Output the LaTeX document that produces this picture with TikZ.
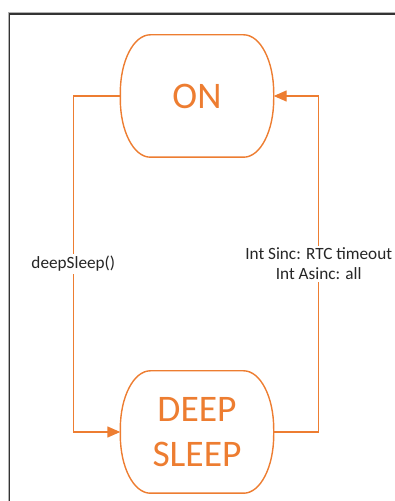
\documentclass[tikz,border=0pt]{standalone}
\usepackage{fontspec}
\setmainfont{Carlito}
\usetikzlibrary{arrows.meta,calc}
\definecolor{offorange}{HTML}{ED7D31}
\definecolor{framegray}{HTML}{333333}
\definecolor{labelgray}{HTML}{262626}
\tikzset{
  statebox/.style={minimum width=153pt,minimum height=122pt,inner sep=0pt,
    text=offorange,font=\fontsize{37.5}{45}\selectfont,align=center},
  outline/.style={draw=offorange,line width=1.4pt},
  conn/.style={draw=offorange,line width=1.4pt,-{Triangle[length=13pt,width=11pt]}},
  lbl/.style={fill=white,text=labelgray,font=\fontsize{17.2}{20}\selectfont,align=center,inner sep=2pt},
  frameline/.style={draw=framegray,line width=1.5pt}
}
\begin{document}
\begin{tikzpicture}[x=1pt,y=1pt]
\useasboundingbox (0,0) rectangle (395,501);
% frame
\draw[draw=black!30,line width=1pt] (8,0) -- (8,488.5) -- (395,488.5);
\draw[frameline] (9.5,0) -- (9.5,487) -- (395,487);
% states
\node[statebox] (on) at (197,405) {ON};
\node[statebox] (ds) at (197,69) {DEEP\\SLEEP};
\foreach \n in {on,ds}{
  \draw[outline] ($(\n.north west)+(30,0)$) -- ($(\n.north east)+(-30,0)$)
    arc[start angle=90,end angle=0,x radius=30,y radius=58]
    -- ($(\n.south east)+(0,58)$)
    arc[start angle=0,end angle=-90,x radius=30,y radius=58]
    -- ($(\n.south west)+(30,0)$)
    arc[start angle=270,end angle=180,x radius=30,y radius=58]
    -- ($(\n.north west)+(0,-58)$)
    arc[start angle=180,end angle=90,x radius=30,y radius=58] -- cycle;
}
% connectors
\draw[conn] (on.west) -- ++(-47,0) |- node[lbl,pos=0.25] {deepSleep()} (ds.west);
\draw[conn] (ds.east) -- ++(45,0) |- node[lbl,pos=0.25] {Int Sinc: RTC timeout\\Int Asinc: all} (on.east);
\end{tikzpicture}
\end{document}
